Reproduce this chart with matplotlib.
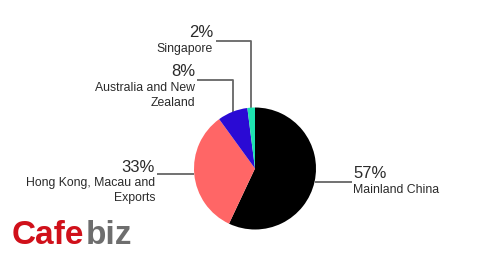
import matplotlib
matplotlib.use("Agg")
import matplotlib.pyplot as plt
import numpy as np

regions = ["Mainland China", "Hong Kong, Macau and\nExports", "Australia and New\nZealand", "Singapore"]
shares = [57, 33, 8, 2]
colors = ["#000000", "#FF6666", "#2A0AD4", "#1DE3B0"]

W, H = 490, 259
fig = plt.figure(figsize=(W / 100, H / 100), dpi=100)
ax = fig.add_axes([0, 0, 1, 1])

cx, cy, r = 255, H - 168.5, 61
wedges, _ = ax.pie(shares, colors=colors, startangle=90, counterclock=False,
                   center=(cx, cy), radius=r, frame=True,
                   wedgeprops=dict(linewidth=0))
ax.set_xlim(0, W)
ax.set_ylim(0, H)
ax.set_aspect("equal")
ax.axis("off")

def Y(py):
    return H - py

fam = ["Liberation Sans", "DejaVu Sans"]
tc = "#2a2a2a"
lc = "#666666"
big, small = 12, 8.8

layout = [
    dict(x=353, ha="left", pb=178.3, lb=192.7, elbow=False, ly=182, lx=352),
    dict(x=155, ha="right", pb=171.7, lb=185.7, elbow=False, ly=174, lx=157),
    dict(x=195, ha="right", pb=76, lb=90.7, elbow=True, ly=80, lx=197),
    dict(x=213, ha="right", pb=37, lb=51.7, elbow=True, ly=41, lx=216),
]

for w, name, val, L in zip(wedges, regions, shares, layout):
    mid = np.deg2rad((w.theta1 + w.theta2) / 2)
    ex = cx + r * np.cos(mid)
    ey = cy + r * np.sin(mid)
    if L["elbow"]:
        xs = [L["lx"], ex, ex]
        ys = [Y(L["ly"]), Y(L["ly"]), ey]
    else:
        xs = [L["lx"], ex]
        ys = [Y(L["ly"]), Y(L["ly"])]
    ax.plot(xs, ys, color=lc, lw=1.3, solid_capstyle="butt", zorder=0)
    ax.text(L["x"], Y(L["pb"]), f"{val}%", ha=L["ha"], va="baseline",
            fontsize=big, color=tc, family=fam)
    for i, ln in enumerate(name.split("\n")):
        ax.text(L["x"], Y(L["lb"] + 15.3 * i), ln, ha=L["ha"], va="baseline",
                fontsize=small, color=tc, family=fam)

# watermark logo
t1 = ax.text(12, Y(244), "Cafe", ha="left", va="baseline", fontsize=24,
             fontweight="bold", color="#D0101A", family=fam)
fig.canvas.draw()
bb = t1.get_window_extent()
ax.text(bb.x1 + 1, Y(244), "biz", ha="left", va="baseline", fontsize=24,
        fontweight="bold", color="#6E6E6E", family=fam)

fig.savefig("out.png", dpi=100)
